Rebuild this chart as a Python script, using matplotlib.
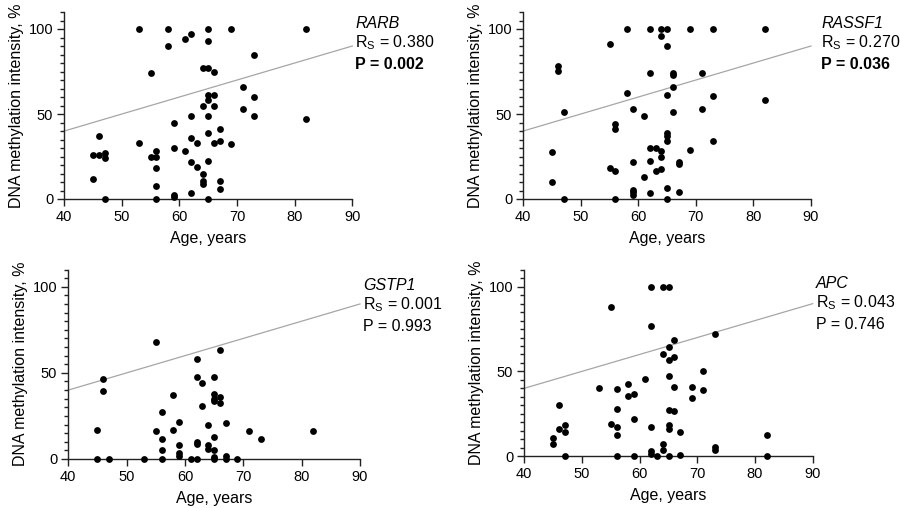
import matplotlib
matplotlib.use("Agg")
import matplotlib.pyplot as plt
from matplotlib.ticker import MultipleLocator

plt.rcParams['font.family'] = ['Liberation Sans', 'DejaVu Sans']
plt.rcParams['mathtext.fontset'] = 'custom'
plt.rcParams['mathtext.rm'] = 'Liberation Sans'
plt.rcParams['mathtext.it'] = 'Liberation Sans:italic'
plt.rcParams['mathtext.bf'] = 'Liberation Sans:bold'

# Age (years) and methylation intensity (%) per gene
age_rarb = [53, 58, 65, 69, 82, 61, 62, 65, 58, 73, 55, 64, 65, 66, 71, 65, 66, 65, 73, 64,
            66, 71, 62, 65, 73, 82, 59, 46, 67, 65, 62, 63, 66, 67, 69, 53, 59, 61, 56, 56,
            55, 45, 46, 47, 47, 62, 65, 63, 56, 64, 64, 64, 67, 67, 45, 56, 62, 59, 59, 47,
            56, 65]
meth_rarb = [100, 100, 100, 100, 100, 94, 97, 93, 90, 84.5, 74, 77, 77, 75, 66, 61, 61, 58, 60, 55,
             55, 53, 49, 49, 49, 47, 45, 37, 41, 39, 36, 33, 33, 34, 32.5, 33, 30, 28, 28, 25,
             25, 26, 26, 27, 24, 22, 22.5, 18.6, 18, 14.7, 10.6, 9, 10.6, 6, 11.6, 7.5, 3.7, 2.4, 1.4, 0,
             0, 0]

age_rassf1 = [58, 62, 64, 65, 69, 73, 82, 64, 55, 65, 46, 46, 62, 66, 66, 71, 66, 58, 65, 73,
              82, 47, 59, 71, 66, 61, 56, 56, 65, 65, 65, 73, 45, 62, 63, 64, 64, 69, 55, 56,
              59, 62, 63, 64, 67, 67, 61, 45, 59, 59, 59, 62, 65, 67, 47, 56, 65]
meth_rassf1 = [100, 100, 100, 100, 100, 100, 100, 96, 91, 90, 78, 75.5, 74, 74, 73, 74, 66, 62.5, 61, 60.5,
               58, 51, 53, 53, 51, 48.6, 44, 41, 39, 37, 34, 34, 27.5, 30, 30, 28, 24.5, 28.6, 18, 16.7,
               22, 22.4, 16.5, 17.6, 22, 20.5, 13, 10, 5.5, 4, 2.4, 3.5, 6.7, 4.3, 0, 0, 0]

age_gstp1 = [55, 66, 62, 46, 62, 65, 63, 46, 58, 65, 66, 65, 65, 66, 63, 56, 59, 64, 67, 45,
             55, 58, 71, 73, 82, 56, 65, 62, 62, 59, 64, 64, 65, 56, 59, 59, 67, 65, 45, 47,
             53, 56, 61, 62, 65, 67, 69]
meth_gstp1 = [68, 63, 58, 46.4, 47.4, 47.4, 44.3, 39.3, 37, 37.7, 36.2, 34.6, 33.8, 32.7, 30.6, 27, 21.7, 20, 21, 16.6,
              16, 17, 16.4, 11.8, 16, 11.6, 13, 9.7, 8.5, 7.9, 8.1, 5.6, 5.2, 5.2, 3.3, 1.7, 1.5, 1.2, 0, 0,
              0, 0, 0, 0, 0, 0, 0]

age_apc = [62, 64, 65, 55, 62, 73, 66, 65, 64, 66, 65, 71, 65, 61, 53, 58, 56, 66, 69, 71,
           58, 59, 69, 46, 56, 65, 66, 59, 55, 65, 65, 56, 62, 47, 46, 47, 67, 56, 45, 45,
           82, 64, 73, 73, 62, 62, 64, 47, 56, 59, 63, 65, 67, 82]
meth_apc = [100, 100, 100, 88, 77, 72, 68.4, 64.3, 60, 58.4, 57, 50.4, 47.3, 45.5, 40, 42.5, 39.4, 41, 40.6, 39,
            35.7, 36.5, 34.3, 30, 28, 27, 26.3, 21.8, 18.8, 18.4, 15.7, 17, 17, 18.4, 16, 14.3, 14, 12.4, 10.4, 7,
            12.2, 7, 5.5, 3.3, 2.9, 1.4, 3.3, 0, 0, 0, 0, 0, 0.8, 0]

genes = ["RARB", "RASSF1", "GSTP1", "APC"]
ages = [age_rarb, age_rassf1, age_gstp1, age_apc]
meths = [meth_rarb, meth_rassf1, meth_gstp1, meth_apc]
r_values = ["0.380", "0.270", "0.001", "0.043"]
p_values = ["0.002", "0.036", "0.993", "0.746"]
p_bold = [True, True, False, False]

# Reference line (y = x) endpoints
ref_x = [40, 90]
ref_y = [40, 90]

W, H = 900, 508
fig = plt.figure(figsize=(W / 100, H / 100), dpi=100)

# axes boxes in pixels: left, right, top, bottom
boxes = [(64.3, 352.3, 12, 199),
         (523.3, 811.0, 12, 199),
         (68.3, 360.0, 269.5, 459),
         (524.3, 812.7, 269.8, 456)]
# annotation anchor: x, baseline of gene name (pixels from top)
anns = [(355, 28), (821, 28), (363, 290), (816, 288)]

for i in range(4):
    l, r, t, b = boxes[i]
    ax = fig.add_axes([l / W, 1 - b / H, (r - l) / W, (b - t) / H])
    ax.plot(ref_x, ref_y, color="#a6a6a6", lw=0.9, zorder=1, clip_on=False)
    ax.plot(ages[i], meths[i], "o", color="black", ms=4.9, mew=0, zorder=3, clip_on=False)
    ax.set_xlim(40, 90)
    ax.set_ylim(0, 110)
    ax.xaxis.set_major_locator(MultipleLocator(10))
    ax.yaxis.set_major_locator(MultipleLocator(50))
    ax.yaxis.set_minor_locator(MultipleLocator(5))
    for s in ("top", "right"):
        ax.spines[s].set_visible(False)
    for s in ("left", "bottom"):
        ax.spines[s].set_linewidth(1.0)
        ax.spines[s].set_color("#222222")
    ax.tick_params(axis="both", which="major", length=5, width=1.0, labelsize=10.5,
                   direction="out", color="#222222", pad=3)
    ax.tick_params(axis="y", which="minor", length=3, width=1.0, color="#222222")
    ax.set_xlabel("Age, years", fontsize=11.5)
    ax.set_ylabel("DNA methylation intensity, %", fontsize=11.5)
    ax.xaxis.set_label_coords(0.5, -32.0 / (b - t))
    ax.yaxis.set_label_coords(-47.5 / (r - l), 0.5)
    ax.yaxis.label.set_va("center")

    ax_x, base = anns[i]
    fx = ax_x / W
    fig.text(fx, 1 - base / H, genes[i], fontsize=11.5, style="italic", va="baseline", ha="left")
    fig.text(fx, 1 - (base + 19.5) / H, "R$_\\mathrm{S}$ = " + r_values[i], fontsize=11.5,
             va="baseline", ha="left")
    fig.text(fx, 1 - (base + 41) / H, "P = " + p_values[i], fontsize=11.5,
             fontweight="bold" if p_bold[i] else "normal", va="baseline", ha="left")

fig.savefig("out.png", dpi=100)
